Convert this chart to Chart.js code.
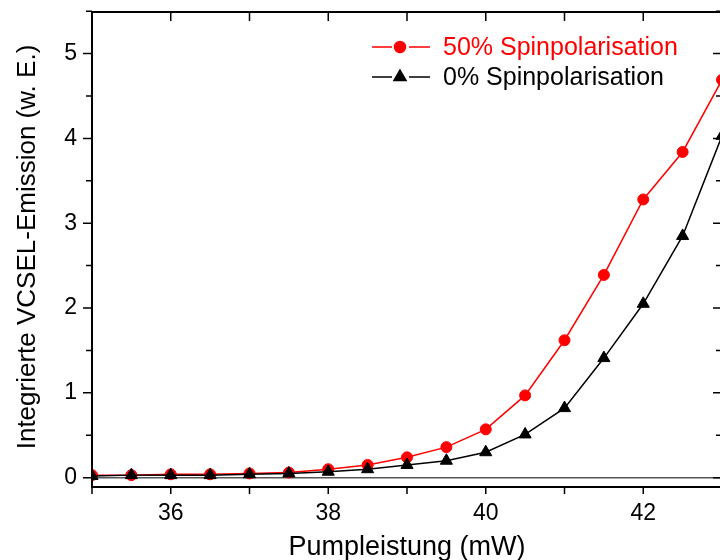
<!DOCTYPE html>
<html>
<head>
<meta charset="utf-8">
<script src="https://cdn.jsdelivr.net/npm/chart.js@4/dist/chart.umd.min.js"></script>
<style>
  html, body { margin: 0; padding: 0; background: #fff; overflow: hidden; }
  #wrap { width: 720px; height: 560px; overflow: hidden; }
  canvas { display: block; }
</style>
</head>
<body>
<div id="wrap"><canvas id="chart" width="730" height="560"></canvas></div>
<script>
const FONT = 'Liberation Sans, Arial, sans-serif';

// pump power (mW)
const pumpPower = [35, 35.5, 36, 36.5, 37, 37.5, 38, 38.5, 39, 39.5, 40, 40.5, 41, 41.5, 42, 42.5, 43];
// integrated emission (arb. units)
const spin50 = [0.03, 0.03, 0.04, 0.04, 0.05, 0.06, 0.10, 0.15, 0.24, 0.36, 0.57, 0.97, 1.62, 2.39, 3.28, 3.84, 4.69];
const spin0 = [0.02, 0.03, 0.03, 0.03, 0.04, 0.05, 0.07, 0.10, 0.15, 0.20, 0.30, 0.51, 0.82, 1.41, 2.05, 2.85, 4.03];

const xTickLabels = [36, 38, 40, 42];
const yTickLabels = [0, 1, 2, 3, 4, 5];
const seriesLabels = ['50% Spinpolarisation', '0% Spinpolarisation'];

const toPoints = ys => ys.map((y, i) => ({ x: pumpPower[i], y }));

// keep the plot area fixed: no extra room for overhanging labels
const fixBox = (s, size) => {
  if (s.isHorizontal()) s.height = size; else s.width = size;
  s.paddingTop = s.paddingBottom = s.paddingLeft = s.paddingRight = 0;
};

// frame, tick marks, zero line, axis titles and legend
const framePlugin = {
  id: 'frame',
  beforeDatasetsDraw(chart) {
    const { ctx, chartArea: a, scales: { y } } = chart;
    ctx.save();
    ctx.strokeStyle = '#555';
    ctx.lineWidth = 1.5;
    const y0 = y.getPixelForValue(0);
    ctx.beginPath();
    ctx.moveTo(a.left, y0);
    ctx.lineTo(a.right, y0);
    ctx.stroke();
    ctx.restore();
  },
  afterDraw(chart) {
    const { ctx, chartArea: a, scales: { x, y } } = chart;
    ctx.save();
    ctx.strokeStyle = '#000';
    ctx.lineWidth = 2;
    ctx.strokeRect(a.left, a.top, a.right - a.left, a.bottom - a.top);

    ctx.lineWidth = 1.5;
    ctx.beginPath();
    for (let v = 35; v <= 43; v++) {
      const px = x.getPixelForValue(v);
      ctx.moveTo(px, a.bottom); ctx.lineTo(px, a.bottom + 7);
      ctx.moveTo(px, a.top); ctx.lineTo(px, a.top + 9);
    }
    for (let v = 0; v <= 5.5; v += 0.5) {
      const py = y.getPixelForValue(v);
      const len = Number.isInteger(v) ? 9 : 6;
      ctx.moveTo(a.left - len, py); ctx.lineTo(a.left, py);
      ctx.moveTo(a.right - len, py); ctx.lineTo(a.right, py);
    }
    ctx.stroke();

    // axis titles
    ctx.fillStyle = '#000';
    ctx.textAlign = 'center';
    ctx.textBaseline = 'alphabetic';
    ctx.font = '27px ' + FONT;
    ctx.fillText('Pumpleistung (mW)', (a.left + a.right) / 2, 555);
    ctx.save();
    ctx.font = '26px ' + FONT;
    ctx.translate(35, 247);
    ctx.rotate(-Math.PI / 2);
    ctx.fillText('Integrierte VCSEL-Emission (w. E.)', 0, 0);
    ctx.restore();

    // legend: line segments broken around the marker
    const rows = [
      { label: seriesLabels[0], color: '#ff0000', style: 'circle', yy: 47 },
      { label: seriesLabels[1], color: '#000000', style: 'triangle', yy: 77 }
    ];
    ctx.font = '25px ' + FONT;
    ctx.textAlign = 'left';
    ctx.textBaseline = 'middle';
    rows.forEach(r => {
      ctx.strokeStyle = r.color;
      ctx.fillStyle = r.color;
      ctx.lineWidth = 1.5;
      ctx.beginPath();
      ctx.moveTo(372, r.yy); ctx.lineTo(392, r.yy);
      ctx.moveTo(409, r.yy); ctx.lineTo(430, r.yy);
      ctx.stroke();
      Chart.helpers.drawPoint(ctx, { pointStyle: r.style, radius: r.style === 'circle' ? 5.5 : 7, borderWidth: 1 }, 400, r.yy);
      ctx.fillText(r.label, 443, r.yy + 1);
    });
    ctx.restore();
  }
};

new Chart(document.getElementById('chart'), {
  type: 'line',
  data: {
    datasets: [
      {
        label: seriesLabels[0],
        data: toPoints(spin50),
        borderColor: '#ff0000',
        backgroundColor: '#ff0000',
        borderWidth: 1.5,
        pointStyle: 'circle',
        pointRadius: 5.5,
        pointBorderWidth: 1,
        tension: 0,
        order: 1
      },
      {
        label: seriesLabels[1],
        data: toPoints(spin0),
        borderColor: '#000000',
        backgroundColor: '#000000',
        borderWidth: 1.5,
        pointStyle: 'triangle',
        pointRadius: 7,
        pointBorderWidth: 1,
        tension: 0,
        order: 0
      }
    ]
  },
  options: {
    responsive: false,
    animation: false,
    layout: { padding: { left: 0, top: 12, right: 4, bottom: 0 } },
    plugins: { legend: { display: false }, tooltip: { enabled: false } },
    scales: {
      x: {
        type: 'linear',
        min: 35,
        max: 43,
        grid: { display: false, drawTicks: false },
        border: { display: false },
        ticks: {
          padding: 13,
          color: '#000',
          font: { family: FONT, size: 23 }
        },
        afterBuildTicks: s => { s.ticks = xTickLabels.map(v => ({ value: v })); },
        afterFit: s => fixBox(s, 73)
      },
      y: {
        min: -0.11,
        max: 5.49,
        grid: { display: false, drawTicks: false },
        border: { display: false },
        ticks: {
          padding: 15,
          color: '#000',
          font: { family: FONT, size: 23 }
        },
        afterBuildTicks: s => { s.ticks = yTickLabels.map(v => ({ value: v })); },
        afterFit: s => fixBox(s, 92)
      }
    }
  },
  plugins: [framePlugin]
});
</script>
</body>
</html>
